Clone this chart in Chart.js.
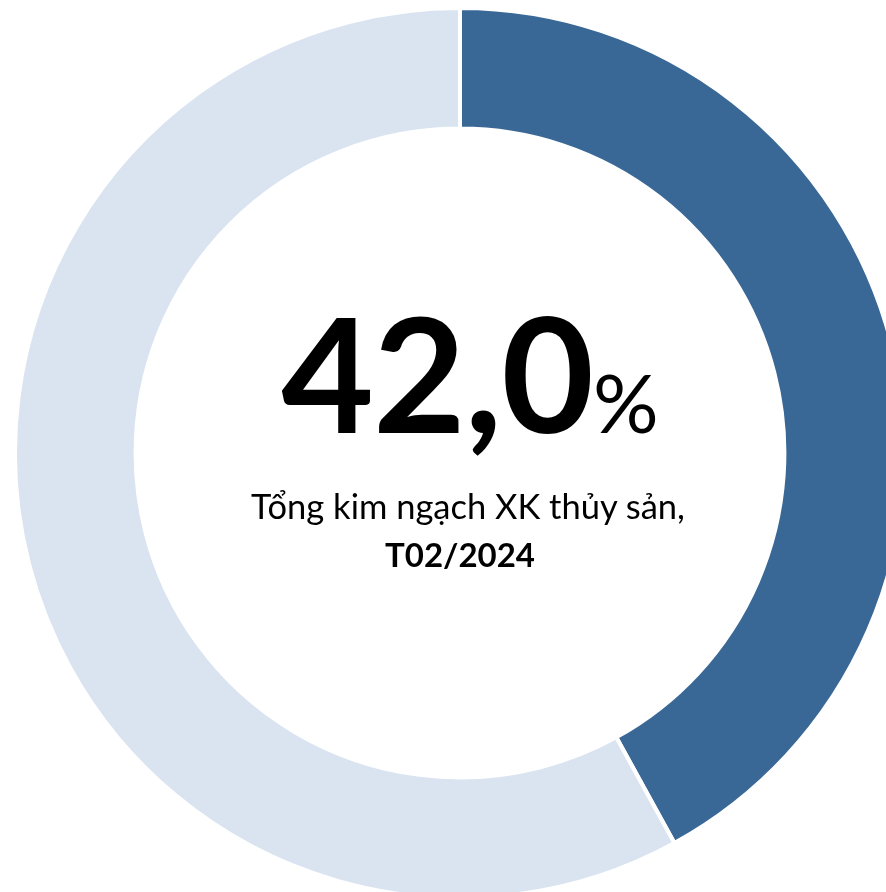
<!DOCTYPE html>
<html>
<head>
<meta charset="utf-8">
<script src="https://cdn.jsdelivr.net/npm/chart.js@4.4.1/dist/chart.umd.min.js"></script>
<style>
  html, body { margin: 0; padding: 0; background: #fff; width: 886px; height: 892px; overflow: hidden; position: relative; }
  #wrap { position: absolute; left: 13px; top: 6px; width: 894px; height: 894px; }
  .txt { position: absolute; left: 0; width: 936px; text-align: center; font-family: Lato, "Open Sans", sans-serif; color: #000; white-space: nowrap; }
  #big { top: 291px; font-size: 160px; font-weight: 700; line-height: 1; letter-spacing: -1px; left: 2px; }
  #big span { font-size: 82px; font-weight: 400; letter-spacing: 0; }
  #sub { top: 489px; font-size: 34.5px; line-height: 1; }
  #period { top: 538px; font-size: 33px; font-weight: 700; line-height: 1; width: 920px; }
</style>
</head>
<body>
<div id="wrap"><canvas id="donut"></canvas></div>
<div class="txt" id="big">42,0<span>%</span></div>
<div class="txt" id="sub">Tổng kim ngạch XK thủy sản,</div>
<div class="txt" id="period">T02/2024</div>
<script>
// Share of total seafood export value, Feb 2024
const categories = ['Tỷ trọng', 'Còn lại'];
const shareValues = [42.0, 58.0];
const sliceColors = ['#3A6896', '#D9E4F0'];

const ctx = document.getElementById('donut').getContext('2d');
const donut = new Chart(ctx, {
  type: 'doughnut',
  data: {
    labels: categories,
    datasets: [{
      data: shareValues,
      backgroundColor: sliceColors,
      borderColor: '#ffffff',
      borderWidth: 4
    }]
  },
  options: {
    responsive: true,
    maintainAspectRatio: false,
    animation: false,
    cutout: '72.9%',
    layout: { padding: 0 },
    plugins: {
      legend: { display: false },
      tooltip: { enabled: false }
    }
  }
});
</script>
</body>
</html>
